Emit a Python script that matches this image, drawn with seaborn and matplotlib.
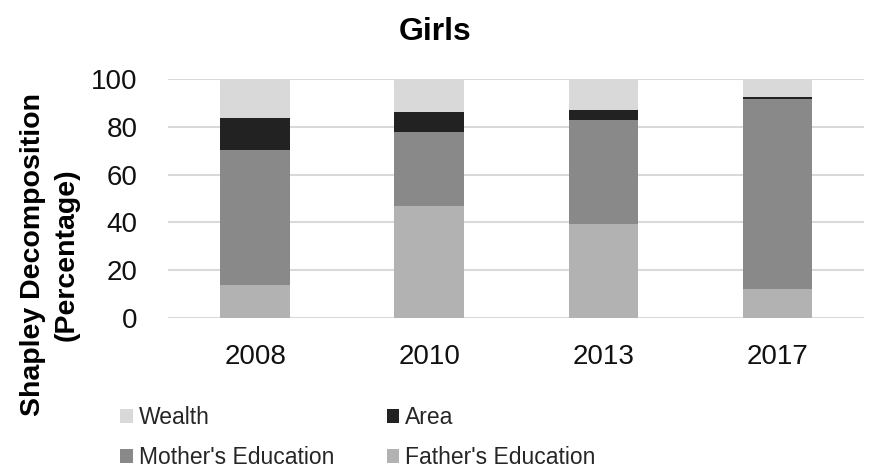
import matplotlib
matplotlib.use("Agg")
import matplotlib.pyplot as plt
import seaborn as sns
import pandas as pd
import numpy as np
from matplotlib.patches import Patch

# Shapley decomposition shares (%) of inequality for girls
years = ["2008", "2010", "2013", "2017"]
fathers_education = [13.6, 46.9, 39.3, 12.3]
mothers_education = [56.7, 31.0, 43.5, 79.3]
area = [13.3, 8.4, 4.3, 0.9]
wealth = [16.4, 13.7, 12.9, 7.5]

components = ["Father's Education", "Mother's Education", "Area", "Wealth"]
colors = {
    "Wealth": "#d9d9d9",
    "Area": "#222222",
    "Mother's Education": "#898989",
    "Father's Education": "#b2b2b2",
}

df = pd.DataFrame({
    "year": years,
    "Father's Education": fathers_education,
    "Mother's Education": mothers_education,
    "Area": area,
    "Wealth": wealth,
})

sns.set_theme(style="white")
plt.rcParams["font.family"] = ["Liberation Sans", "DejaVu Sans"]

fig = plt.figure(figsize=(8.71, 4.69), dpi=100)
ax = fig.add_axes([0.193, 0.322, 0.7995, 0.5095])

# Stack by drawing cumulative totals, tallest first
cum = df[components].cumsum(axis=1)
for comp in reversed(components):
    sns.barplot(x=df["year"], y=cum[comp], color=colors[comp], width=0.4,
                saturation=1, ax=ax, zorder=3, linewidth=0)

ax.set_ylim(0, 100)
ax.set_yticks(np.arange(0, 101, 20))
ax.yaxis.grid(True, color="#d9d9d9", linewidth=1.5, zorder=0)
ax.set_axisbelow(True)
for s in ax.spines.values():
    s.set_visible(False)
ax.set_xlabel("")
ax.set_ylabel("")
ax.tick_params(axis="x", length=0, pad=19, labelsize=20, colors="#111111")
ax.tick_params(axis="y", length=0, pad=22, labelsize=20, colors="#111111")

fig.text(0.5, 0.932, "Girls", ha="center", va="center", fontsize=23,
         fontweight="bold", color="black")
fig.text(0.057, 0.458, "Shapley Decomposition\n(Percentage)", rotation=90,
         ha="center", va="center", multialignment="center",
         fontsize=20.5, fontweight="bold", color="black", linespacing=1.35)

order = ["Wealth", "Mother's Education", "Area", "Father's Education"]
handles = [Patch(facecolor=colors[c], edgecolor="none", label=c) for c in order]
fig.legend(handles=handles, loc="upper left", bbox_to_anchor=(0.138, 0.134),
           ncol=2, frameon=False, fontsize=16.5, handlelength=0.55,
           handleheight=0.55, handletextpad=0.25, columnspacing=2.3,
           labelspacing=0.75, borderaxespad=0, borderpad=0)

fig.savefig("out.png", dpi=100)
